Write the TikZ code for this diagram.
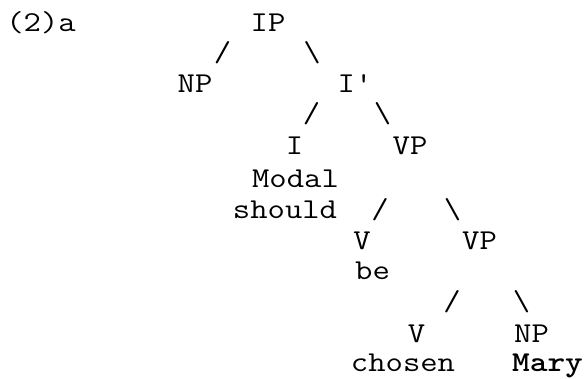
\documentclass[tikz,border=0pt]{standalone}
\usepackage{fontspec}
\usepackage{graphicx}
\newcommand\cw[1]{\scalebox{1.17}[1]{#1}}
\begin{document}
\begin{tikzpicture}[x=1pt,y=-1pt,
  tok/.style={inner sep=0pt,outer sep=0pt,anchor=base,font=\ttfamily\fontsize{28.8}{31}\selectfont},
  lead/.style={tok,font=\ttfamily\fontsize{28.8}{31}\selectfont\bfseries}]
\useasboundingbox (0,0) rectangle (585,379);
% row 1
\node[tok] (lab) at (41,32) {\cw{(2)a}};
\node[tok] (ip) at (268,32) {\cw{IP}};
% row 2
\node[tok] (s1) at (222.5,62) {\cw{/}};
\node[tok] (b1) at (312,62) {\cw{\textbackslash}};
% row 3
\node[tok] (np1) at (195,93) {\cw{NP}};
\node[tok] (ibar) at (355,93) {\cw{I\char"27}};
% row 4
\node[tok] (s2) at (311.5,123) {\cw{/}};
\node[tok] (b2) at (382.5,123) {\cw{\textbackslash}};
% row 5
\node[tok] (i) at (294.5,155) {\cw{I}};
\node[tok] (vp1) at (410,155) {\cw{VP}};
% row 6
\node[tok] (modal) at (295.5,187) {\cw{Modal}};
% row 7
\node[tok] (should) at (285,218) {\cw{should}};
\node[tok] (s3) at (380,218) {\cw{/}};
\node[tok] (b3) at (452.5,218) {\cw{\textbackslash}};
% row 8
\node[tok] (v1) at (362,249) {\cw{V}};
\node[tok] (vp2) at (479.5,249) {\cw{VP}};
% row 9
\node[tok] (be) at (372.5,279) {\cw{be}};
% row 10
\node[tok] (s4) at (452,310) {\cw{/}};
\node[tok] (b4) at (521.5,310) {\cw{\textbackslash}};
% row 11
\node[tok] (v2) at (416.5,342) {\cw{V}};
\node[tok] (np2) at (531.5,342) {\cw{NP}};
% row 12
\node[tok] (chosen) at (403,371) {\cw{chosen}};
\node[lead] (mary) at (547.5,371) {\cw{Mary}};
\end{tikzpicture}
\end{document}
